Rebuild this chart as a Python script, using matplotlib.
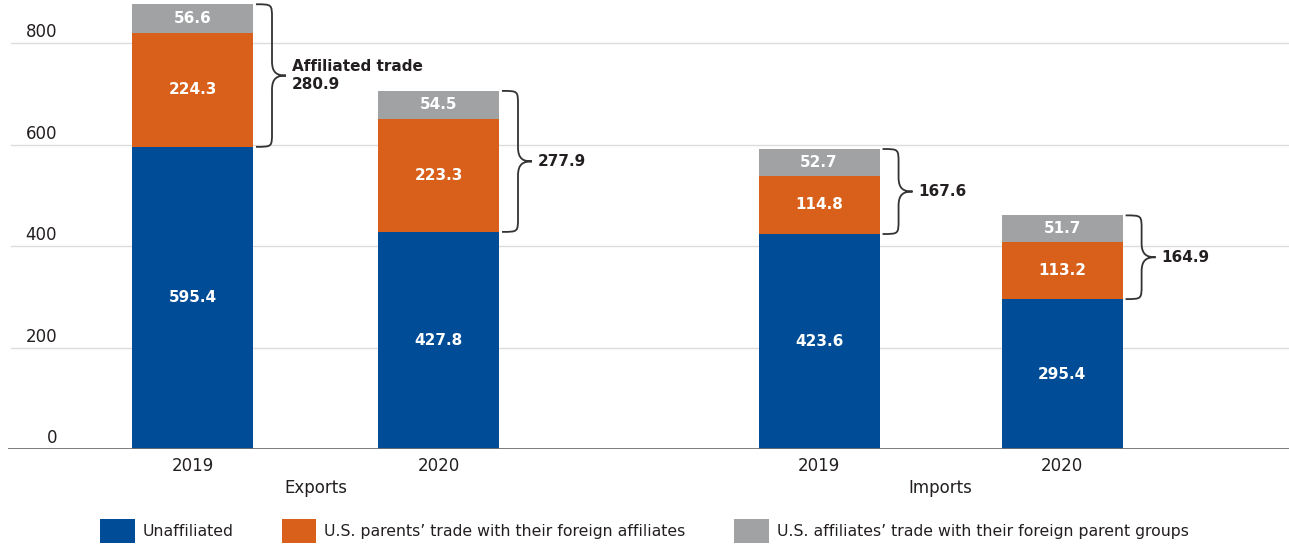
import matplotlib
matplotlib.use("Agg")
import matplotlib.pyplot as plt
from matplotlib.path import Path
from matplotlib.patches import PathPatch, Patch
from matplotlib.transforms import blended_transform_factory

# Data
groups = ["Exports", "Imports"]
years = ["2019", "2020", "2019", "2020"]
unaffiliated = [595.4, 427.8, 423.6, 295.4]
parents = [224.3, 223.3, 114.8, 113.2]
affiliates = [56.6, 54.5, 52.7, 51.7]
affiliated_totals = [280.9, 277.9, 167.6, 164.9]
y_ticks = [0, 200, 400, 600, 800]
legend_labels = ["Unaffiliated",
                 "U.S. parents\u2019 trade with their foreign affiliates",
                 "U.S. affiliates\u2019 trade with their foreign parent groups"]

# Colours
blue = "#004C97"
orange = "#D9601A"
gray = "#A0A2A3"
text_dark = "#231F20"

plt.rcParams["font.family"] = ["DejaVu Sans"]

W, H = 1289, 547
fig = plt.figure(figsize=(W / 100, H / 100), dpi=100)
# axes placed in pixel terms: left edge at 8px, zero line at 449px
ax = fig.add_axes([8 / W, (H - 449) / H, (W - 8) / W, 449 / H])

px_per_unit_x = 246.0
positions = [0, 1, 2.547, 3.535]
bar_w = 121 / px_per_unit_x
y_top = 449 / 0.5075

ax.set_xlim(-0.75, (W - 8 - 184.5) / px_per_unit_x)
ax.set_ylim(0, y_top)

# gridlines
for t in y_ticks[1:]:
    ax.axhline(t, color="#DCDCDC", lw=1, zorder=0, xmin=0.002)
ax.axhline(0, color="#707070", lw=2, zorder=3)

# stacked bars
bottoms2 = [u + p for u, p in zip(unaffiliated, parents)]
ax.bar(positions, unaffiliated, bar_w, color=blue, zorder=2)
ax.bar(positions, parents, bar_w, bottom=unaffiliated, color=orange, zorder=2)
ax.bar(positions, affiliates, bar_w, bottom=bottoms2, color=gray, zorder=2)

# value labels inside bars
for i, x in enumerate(positions):
    segs = [(0, unaffiliated[i]), (unaffiliated[i], parents[i]), (bottoms2[i], affiliates[i])]
    for b, h in segs:
        ax.text(x, b + h / 2, f"{h:.1f}", ha="center", va="center",
                color="white", fontsize=11, fontweight="bold", zorder=4)


def draw_brace(x0, bottom, top, label):
    # curly brace pointing right, spanning bottom..top
    xm = x0 + 16 / px_per_unit_x
    xt = x0 + 30 / px_per_unit_x
    r = 28.0
    ym = (bottom + top) / 2
    verts = [
        (x0, top),
        (xm, top), (xm, top), (xm, top - r),
        (xm, ym + r),
        (xm, ym + r * 0.15), (xm + (xt - xm) * 0.4, ym), (xt, ym),
        (xm + (xt - xm) * 0.4, ym), (xm, ym - r * 0.15), (xm, ym - r),
        (xm, bottom + r),
        (xm, bottom), (xm, bottom), (x0, bottom),
    ]
    codes = ([Path.MOVETO] + [Path.CURVE4] * 3 + [Path.LINETO] + [Path.CURVE4] * 6
             + [Path.LINETO] + [Path.CURVE4] * 3)
    ax.add_patch(PathPatch(Path(verts, codes), fill=False, edgecolor="#333333",
                           lw=1.3, zorder=3))
    ax.text(xt + 6 / px_per_unit_x, ym, label, ha="left", va="center",
            fontsize=11, fontweight="bold", color=text_dark, linespacing=1.25)


for i, x in enumerate(positions):
    top = bottoms2[i] + affiliates[i]
    label = f"{affiliated_totals[i]:.1f}"
    if i == 0:
        label = "Affiliated trade\n" + label
    draw_brace(x + bar_w / 2 + 3 / px_per_unit_x, unaffiliated[i], top, label)

# y tick labels sitting above the gridlines, right-aligned near the left edge
trans = blended_transform_factory(ax.transAxes, ax.transData)
for t in y_ticks:
    ax.text(49 / (W - 8), t + 3, str(t), transform=trans, ha="right", va="bottom",
            fontsize=12, color=text_dark)

# x tick labels and group labels
ax.set_xticks(positions, years)
ax.tick_params(axis="x", length=0, pad=6, labelsize=12, labelcolor=text_dark)
ax.set_yticks([])
for s in ax.spines.values():
    s.set_visible(False)

trans_x = blended_transform_factory(ax.transData, fig.transFigure)
ax.text((positions[0] + positions[1]) / 2, 1 - 488 / H, groups[0], transform=trans_x,
        ha="center", va="center", fontsize=12, color=text_dark)
ax.text((positions[2] + positions[3]) / 2, 1 - 488 / H, groups[1], transform=trans_x,
        ha="center", va="center", fontsize=12, color=text_dark)

# legend
handles = [Patch(facecolor=c) for c in (blue, orange, gray)]
fig.legend(handles, legend_labels, loc="center left", bbox_to_anchor=(100 / W, 1 - 531 / H),
           ncol=3, frameon=False, fontsize=11.3, handlelength=2.2, handleheight=1.9,
           handletextpad=0.5, columnspacing=3.1, borderpad=0, borderaxespad=0,
           labelcolor=text_dark)

fig.savefig("out.png", dpi=100)
